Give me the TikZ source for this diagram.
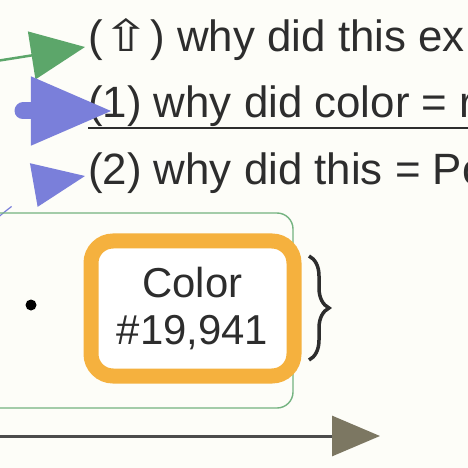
\documentclass[tikz,border=0pt]{standalone}
\usepackage{fontspec}
\setmainfont{Liberation Sans}
\newfontfamily\symfont{DejaVu Sans}
\usetikzlibrary{
  arrows.meta,
  decorations.pathreplacing
}
\definecolor{paper}{RGB}{253,253,248}
\definecolor{inkgray}{RGB}{45,45,45}
\definecolor{whygreen}{RGB}{92,166,106}
\definecolor{whyblue}{RGB}{122,127,218}
\definecolor{boxorange}{RGB}{245,177,62}
\definecolor{axisolive}{RGB}{124,119,98}
\tikzset{
  why line/.style={
    anchor=base west,
    inner sep=0pt,
    text=inkgray,
    font=\fontsize{44}{50}\selectfont
  },
  value box/.style={
    draw=boxorange,
    line width=15bp,
    rounded corners=22bp,
    fill=white,
    minimum width=203bp,
    minimum height=135bp,
    align=center,
    text=inkgray,
    font=\fontsize{42}{47}\selectfont
  },
  group frame/.style={
    draw=whygreen!85,
    line width=1.4bp,
    rounded corners=16bp
  },
  dotmark/.style={
    circle,
    fill=black,
    inner sep=0pt,
    minimum size=11bp
  }
}

\begin{document}
\begin{tikzpicture}[
    x=1bp, y=-1bp,
    up arrow/.style={draw=whygreen, line width=2.5bp, -{Triangle[length=54bp,width=48bp]}, whygreen},
    main arrow/.style={draw=whyblue, line width=17bp, line cap=round, -{Triangle[length=82bp,width=64bp]}, whyblue},
    side arrow/.style={draw=whyblue, line width=1.2bp, dash pattern=on 20bp off 60bp, -{Triangle[length=52bp,width=44bp]}, whyblue},
    time arrow/.style={draw=inkgray!85, line width=3bp, -{Triangle[length=48bp,width=40bp,color=axisolive]}}
    ]
  \clip (0,0) rectangle (468,468);
  \fill[paper] (0,0) rectangle (468,468);

  \node[why line] (q0) at (88,52) {({\symfont\scalebox{1.3}[1]{⇧}}) why did this ex};
  \node[why line] (q1) at (88,118) {(1) why did color = r};
  \node[why line] (q2) at (88,185) {(2) why did this = Po};
  \draw[inkgray, line width=2.5bp] ([yshift=-10bp]q1.base west) -- ([yshift=-10bp]q1.base east);

  \coordinate (g0) at (-10,62);
  \coordinate (b1) at (23,111);
  \coordinate (b2) at (-4,219);
  \coordinate (t0) at (-5,436);
  \coordinate (t1) at (380,436);
  \draw[up arrow] (g0) -- ([shift={(-3,-5)}]q0.base west);
  \draw[main arrow] (b1) -- ([shift={(25,-7)}]q1.base west);
  \draw[side arrow] (b2) to[out=40, in=190] ([shift={(-3,-9)}]q2.base west);

  \draw[group frame] (-20,213) rectangle (293,408);
  \node[dotmark] (pt) at (31,305) {};
  \node[value box] (clr) at (192.5,308.5) {Color\\\#19,941};
  \coordinate (br0) at (309,256);
  \coordinate (br1) at (309,360);
  \draw[inkgray, line width=3.5bp, decorate, decoration={brace, amplitude=20bp}] (br0) -- (br1);

  \draw[time arrow] (t0) -- (t1);
\end{tikzpicture}
\end{document}
